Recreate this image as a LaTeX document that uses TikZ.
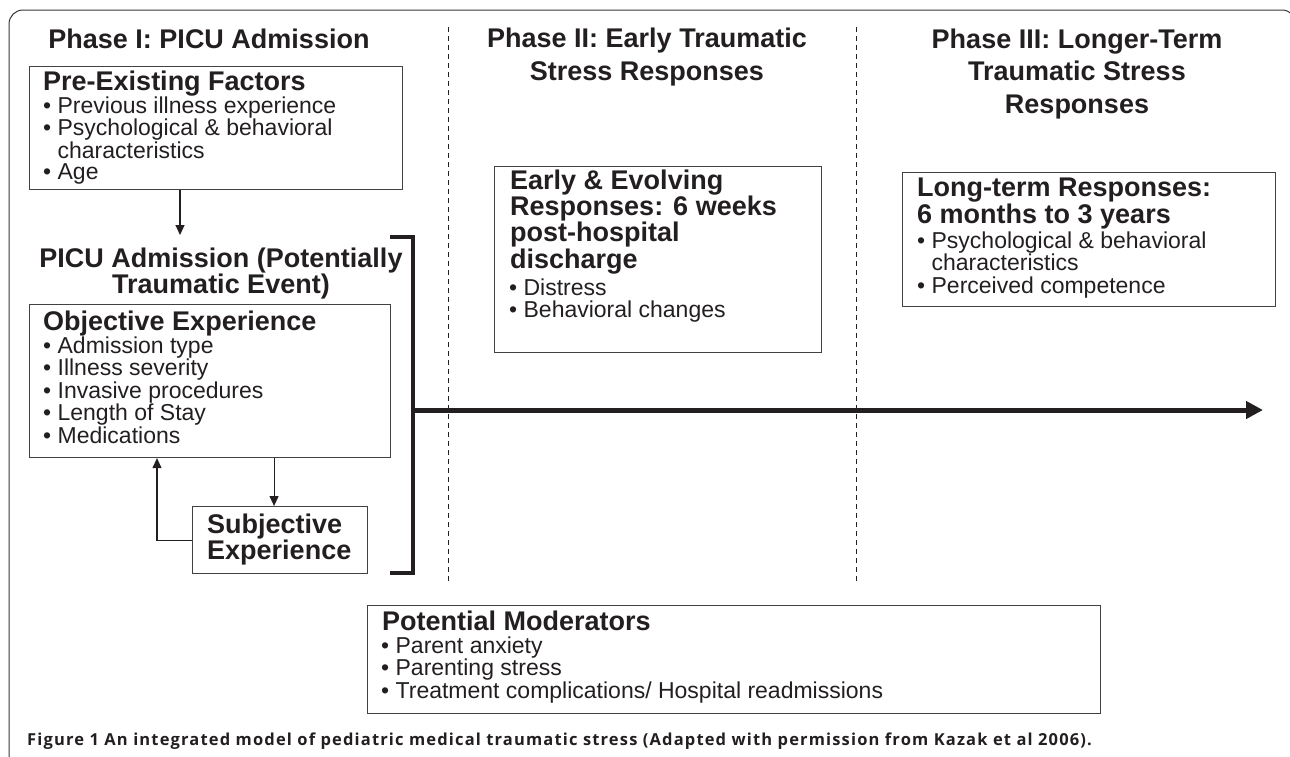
\documentclass[tikz,border=0pt]{standalone}
\usepackage{fontspec}
\setmainfont{Liberation Sans}
\newfontfamily\capfont[LetterSpace=7]{Open Sans}
\usetikzlibrary{arrows.meta,positioning}
\definecolor{ink}{HTML}{231F20}

\begin{document}
\begin{tikzpicture}[x=1pt,y=-1pt,
    every node/.style={text=ink, inner sep=0pt},
    box/.style={draw=ink!85, line width=1.1pt, anchor=north west},
    ttl/.style={font=\bfseries\fontsize{27}{32.5}\selectfont, align=center, anchor=base},
    head/.style={font=\bfseries\fontsize{27}{25.5}\selectfont, align=left, anchor=base west},
    bul/.style={font=\fontsize{23}{22}\selectfont, align=left, anchor=base west},
    arr/.style={draw=ink, line width=1.1pt, -{Triangle[length=10pt,width=9pt]}},
    sep/.style={draw=ink, line width=0.8pt, dash pattern=on 5pt off 4pt}]
  \clip (0,0) rectangle (1290,756);
  % frame
  \draw[ink!90, line width=1pt, rounded corners=14pt] (9,10) rectangle (1296,790);

  % phase titles and separators (multi-line nodes sit on their last line)
  \node[ttl] (ph1) at (209,48) {Phase I: PICU Admission};
  \node[ttl] (ph2) at (647,80) {Phase II: Early Traumatic\\Stress Responses};
  \node[ttl] (ph3) at (1077,113) {Phase III: Longer-Term\\Traumatic Stress\\Responses};
  \draw[sep] (448,27) -- (448,582);
  \draw[sep] (856,27) -- (856,582);

  % phase I
  \node[box, minimum width=373, minimum height=123] (prefac) at (29,66) {};
  \node[head] (prefac-h) at (43,90) {Pre-Existing Factors};
  \node[bul, font=\fontsize{23}{20.8}\selectfont] (prefac-b) at (43,179)
    {• Previous illness experience\\• Psychological \& behavioral\\\phantom{• }characteristics\\• Age};
  \coordinate (picutop) at (180,235);
  \draw[arr] (prefac.south -| picutop) -- (picutop);
  \node[head, align=center, anchor=base] (picu) at (221,293)
    {PICU Admission (Potentially\\Traumatic Event)};

  \node[box, minimum width=361, minimum height=153] (objexp) at (29,304) {};
  \node[head] (objexp-h) at (43,330) {Objective Experience};
  \node[bul, font=\fontsize{23}{22.6}\selectfont] (objexp-b) at (43,443.4)
    {• Admission type\\• Illness severity\\• Invasive procedures\\• Length of Stay\\• Medications};
  \node[box, minimum width=175, minimum height=67] (subjexp) at (192,506) {};
  \node[head] (subjexp-h) at (207,559) {Subjective\\Experience};
  \coordinate (loopx) at (157,0);
  \draw[arr] ([xshift=-6pt]objexp.south -| subjexp.north) -- ([xshift=-6pt]subjexp.north);
  \draw[arr] (subjexp.west) -| (objexp.south -| loopx);

  % bracket and time line
  \coordinate (brk) at (413,410);
  \coordinate (tend) at (1263,410);
  \draw[ink, line width=4.5pt] (390,237) -- (413,237) -- (413,573) -- (390,573);
  \draw[ink, line width=5pt, -{Triangle[length=17pt,width=17pt]}] (brk) -- (tend);

  % phase II
  \node[box, minimum width=327, minimum height=186] (early) at (494,166) {};
  \node[head, font=\bfseries\fontsize{27}{25}\selectfont] (early-h) at (510,268)
    {Early \& Evolving\\Responses: 6 weeks\\post-hospital\\discharge};
  \node[bul] (early-b) at (509,317) {• Distress\\• Behavioral changes};

  % phase III
  \node[box, minimum width=373, minimum height=134] (longterm) at (902,172) {};
  \node[head, font=\bfseries\fontsize{27}{25}\selectfont] (longterm-h) at (917,223)
    {Long-term Responses:\\6 months to 3 years};
  \node[bul, font=\fontsize{23}{22.5}\selectfont] (longterm-b) at (917,293)
    {• Psychological \& behavioral\\\phantom{• }characteristics\\• Perceived competence};

  % moderators
  \node[box, minimum width=733, minimum height=108] (moder) at (367,605) {};
  \node[head] (moder-h) at (382,630) {Potential Moderators};
  \node[bul, font=\fontsize{23}{22.5}\selectfont] (moder-b) at (381,698)
    {• Parent anxiety\\• Parenting stress\\• Treatment complications/ Hospital readmissions};

  % caption
  \node[anchor=base west, font=\capfont\bfseries\fontsize{16.5}{20}\selectfont] (caption) at (27,745)
    {Figure 1 An integrated model of pediatric medical traumatic stress (Adapted with permission from Kazak et al 2006).};
\end{tikzpicture}
\end{document}
